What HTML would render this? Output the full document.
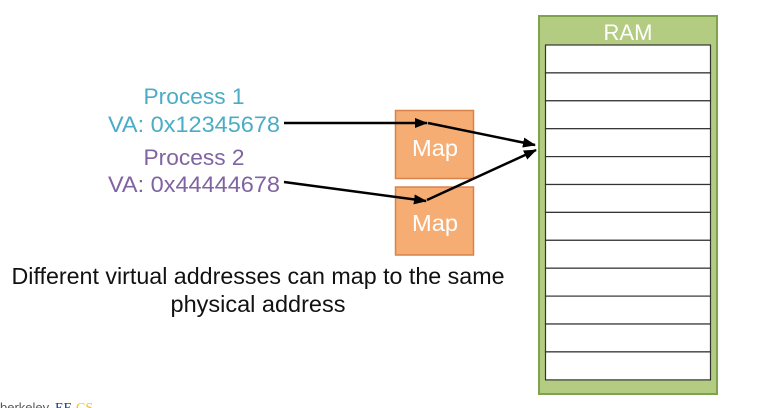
<!DOCTYPE html>
<html><head><meta charset="utf-8"><style>
html,body{margin:0;padding:0;background:#fff;}
svg{display:block;font-family:"Liberation Sans",Arial,sans-serif;}
</style></head><body>
<svg width="772" height="408" viewBox="0 0 772 408" xmlns="http://www.w3.org/2000/svg">
<defs>
<marker id="ah" markerWidth="13" markerHeight="10" refX="12" refY="5" orient="auto" markerUnits="userSpaceOnUse">
<path d="M0,0 L13,5 L0,10 z" fill="#000"/>
</marker>
</defs>
<rect x="539" y="16" width="178" height="378" fill="#b3cc82" stroke="#7fa34c" stroke-width="2"/>
<text x="628" y="40" font-size="22" fill="#fff" text-anchor="middle">RAM</text>
<g fill="#fff" stroke="#333" stroke-width="1.2">
<rect x="545.5" y="45" width="165" height="27.9"/>
<rect x="545.5" y="72.9" width="165" height="27.9"/>
<rect x="545.5" y="100.8" width="165" height="27.9"/>
<rect x="545.5" y="128.7" width="165" height="27.9"/>
<rect x="545.5" y="156.6" width="165" height="27.9"/>
<rect x="545.5" y="184.5" width="165" height="27.9"/>
<rect x="545.5" y="212.4" width="165" height="27.9"/>
<rect x="545.5" y="240.3" width="165" height="27.9"/>
<rect x="545.5" y="268.2" width="165" height="27.9"/>
<rect x="545.5" y="296.1" width="165" height="27.9"/>
<rect x="545.5" y="324" width="165" height="27.9"/>
<rect x="545.5" y="351.9" width="165" height="28"/>
</g>
<rect x="395.5" y="110.5" width="78" height="68" fill="#f5ad73" stroke="#d9824a" stroke-width="1.5"/>
<rect x="395.5" y="187" width="78" height="68" fill="#f5ad73" stroke="#d9824a" stroke-width="1.5"/>
<text x="435" y="156" font-size="23" fill="#fff" text-anchor="middle" textLength="46" lengthAdjust="spacingAndGlyphs">Map</text>
<text x="435" y="231" font-size="23" fill="#fff" text-anchor="middle" textLength="46" lengthAdjust="spacingAndGlyphs">Map</text>
<text x="194" y="104" font-size="22" fill="#4bacc6" text-anchor="middle" textLength="101" lengthAdjust="spacingAndGlyphs">Process 1</text>
<text x="194" y="132" font-size="22" fill="#4bacc6" text-anchor="middle" textLength="172" lengthAdjust="spacingAndGlyphs">VA: 0x12345678</text>
<text x="194" y="165" font-size="22" fill="#8064a2" text-anchor="middle" textLength="101" lengthAdjust="spacingAndGlyphs">Process 2</text>
<text x="194" y="192" font-size="22" fill="#8064a2" text-anchor="middle" textLength="172" lengthAdjust="spacingAndGlyphs">VA: 0x44444678</text>
<g stroke="#000" stroke-width="2.5" fill="none">
<line x1="284" y1="123" x2="427" y2="123" marker-end="url(#ah)"/>
<line x1="428" y1="123" x2="535" y2="145" marker-end="url(#ah)"/>
<line x1="284" y1="182" x2="426" y2="201" marker-end="url(#ah)"/>
<line x1="427" y1="200" x2="536" y2="150" marker-end="url(#ah)"/>
</g>
<text x="258" y="284" font-size="23" fill="#111" text-anchor="middle" textLength="493" lengthAdjust="spacingAndGlyphs">Different virtual addresses can map to the same</text>
<text x="258" y="312" font-size="23" fill="#111" text-anchor="middle" textLength="175" lengthAdjust="spacingAndGlyphs">physical address</text>
<text x="0" y="412" font-size="13" fill="#555">berkeley</text>
<text x="55" y="412" font-size="14" fill="#1f3a8a" font-family="Liberation Serif,serif">EE</text>
<text x="76" y="412" font-size="14" fill="#f2c21b" font-family="Liberation Serif,serif">CS</text>
</svg>
</body></html>
